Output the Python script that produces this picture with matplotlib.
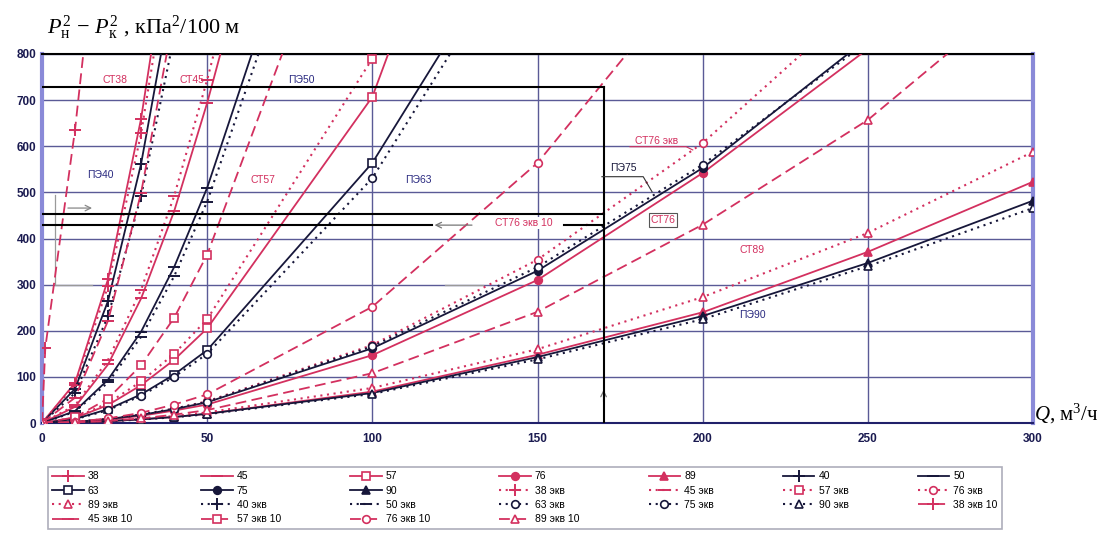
import numpy as np
import matplotlib
matplotlib.use('Agg')
import matplotlib.pyplot as plt

plt.rcParams['mathtext.fontset'] = 'custom'
plt.rcParams['mathtext.rm'] = 'Liberation Serif'
plt.rcParams['mathtext.it'] = 'Liberation Serif:italic'

nan = np.nan
# ---------------- data ----------------
Q = [0, 10, 20, 30, 40, 50, 100, 150, 200, 250, 300]

# steel pipes (СТ), solid
st38 = [0, 87, 312, 660, 1124, nan, nan, nan, nan, nan, nan]
st45 = [0, 35, 127, 270, 459, 694, 2019, nan, nan, nan, nan]
st57 = [0, 11, 39, 82, 137, 205, 707, 1676, nan, nan, nan]
st76 = [0, 2, 7.5, 15.5, 27, 40, 147, 310, 542, 811, nan]
st89 = [0, 1.2, 4, 8, 13, 20, 68, 148, 240, 371, 523]
# polyethylene pipes (ПЭ), solid
pe40 = [0, 74, 265, 562, 957, nan, nan, nan, nan, nan, nan]
pe50 = [0, 26, 94, 198, 338, 510, 1584, nan, nan, nan, nan]
pe63 = [0, 8.7, 30, 62, 105, 158, 564, 1140, nan, nan, nan]
pe75 = [0, 2.3, 8.6, 17.5, 30, 45, 162, 330, 553, 834, nan]
pe90 = [0, 1.2, 4, 8, 13, 20, 65, 143, 232, 347, 482]
# equivalent ("экв"), dotted
st38_e = [0, 83, 297, 628, 1070, nan, nan, nan, nan, nan, nan]
st45_e = [0, 38, 137, 289, 492, 744, 2144, nan, nan, nan, nan]
st57_e = [0, 12, 43, 90, 150, 225, 790, 1700, nan, nan, nan]
st76_e = [0, 2.4, 9, 18, 31, 47, 169, 354, 607, 929, nan]
st89_e = [0, 1.4, 4.5, 9.5, 15, 23, 76, 160, 273, 412, 588]
pe40_e = [0, 65, 232, 492, 838, nan, nan, nan, nan, nan, nan]
pe50_e = [0, 24.5, 88, 187, 318, 480, 1512, nan, nan, nan, nan]
pe63_e = [0, 8, 28, 59, 100, 150, 531, 1103, nan, nan, nan]
pe75_e = [0, 2.4, 8.8, 18, 31, 46, 166, 338, 560, 827, nan]
pe90_e = [0, 1.1, 3.8, 7.5, 12.5, 19, 63, 138, 225, 340, 466]
# equivalent 10 ("экв 10"), dashed
Q38_10 = [0, 1, 10, 15]
st38_e10 = [0, 163, 636, 964]
st45_e10 = [0, 55, 222, 499, 887, nan, nan, nan, nan, nan, nan]
st57_e10 = [0, 12.4, 53, 125, 228, 365, 1323, nan, nan, nan, nan]
st76_e10 = [0, 2.5, 10, 22, 40, 62, 252, 564, 1001, nan, nan]
st89_e10 = [0, 1.2, 4.5, 10, 18, 28, 108, 241, 430, 657, 955]

x_ticks = [0, 50, 100, 150, 200, 250, 300]
y_ticks = [0, 100, 200, 300, 400, 500, 600, 700, 800]

# ---------------- style ----------------
RED = '#d3305f'
DARK = '#17173a'
NAVY = '#2a2a80'
GRID = '#5a5a96'
DOT = (0, (1, 2.2))
DASH = (0, (6, 3))

fig = plt.figure(figsize=(11.19, 5.38), dpi=100)
ax = fig.add_axes([42 / 1119, 115 / 538, 991 / 1119, 369 / 538])

def mk(m, c, open_=False):
    d = dict(marker=m, markersize=5.5, markeredgecolor=c, markeredgewidth=1.2)
    d['markerfacecolor'] = 'white' if open_ else c
    if m in ('+', '_'):
        d['markersize'] = 8
        d['markeredgewidth'] = 1.4
    return d

series = [
    (Q, st38, '38', RED, '-', mk('+', RED)),
    (Q, st45, '45', RED, '-', mk('_', RED)),
    (Q, st57, '57', RED, '-', mk('s', RED, True)),
    (Q, st76, '76', RED, '-', mk('o', RED)),
    (Q, st89, '89', RED, '-', mk('^', RED)),
    (Q, pe40, '40', DARK, '-', mk('+', DARK)),
    (Q, pe50, '50', DARK, '-', mk('_', DARK)),
    (Q, pe63, '63', DARK, '-', mk('s', DARK, True)),
    (Q, pe75, '75', DARK, '-', mk('o', DARK)),
    (Q, pe90, '90', DARK, '-', mk('^', DARK)),
    (Q, st38_e, '38 экв', RED, DOT, mk('+', RED)),
    (Q, st45_e, '45 экв', RED, DOT, mk('_', RED)),
    (Q, st57_e, '57 экв', RED, DOT, mk('s', RED, True)),
    (Q, st76_e, '76 экв', RED, DOT, mk('o', RED, True)),
    (Q, st89_e, '89 экв', RED, DOT, mk('^', RED, True)),
    (Q, pe40_e, '40 экв', DARK, DOT, mk('+', DARK)),
    (Q, pe50_e, '50 экв', DARK, DOT, mk('_', DARK)),
    (Q, pe63_e, '63 экв', DARK, DOT, mk('o', DARK, True)),
    (Q, pe75_e, '75 экв', DARK, DOT, mk('o', DARK, True)),
    (Q, pe90_e, '90 экв', DARK, DOT, mk('^', DARK, True)),
    (Q38_10, st38_e10, '38 экв 10', RED, DASH, mk('+', RED)),
    (Q, st45_e10, '45 экв 10', RED, DASH, mk('_', RED)),
    (Q, st57_e10, '57 экв 10', RED, DASH, mk('s', RED, True)),
    (Q, st76_e10, '76 экв 10', RED, DASH, mk('o', RED, True)),
    (Q, st89_e10, '89 экв 10', RED, DASH, mk('^', RED, True)),
]

handles, labels = [], []
for xs, ys, lab, c, ls, m in series:
    lw = 1.5 if ls == DOT else 1.3
    ln, = ax.plot(xs, ys, color=c, linestyle=ls, linewidth=lw, label=lab, zorder=3, **m)
    handles.append(ln)
    labels.append(lab)

ax.set_xlim(0, 300)
ax.set_ylim(0, 800)
ax.set_xticks(x_ticks)
ax.set_yticks(y_ticks)
ax.tick_params(length=0, labelsize=8.5, labelcolor='#1a1a50')
ax.tick_params(axis='x', pad=7)
ax.tick_params(axis='y', pad=4)
for t in ax.get_xticklabels() + ax.get_yticklabels():
    t.set_fontweight('bold')
    t.set_family('Liberation Sans')
ax.grid(True, color=GRID, linewidth=1.0, zorder=0)
ax.set_axisbelow(True)
ax.spines['left'].set_color('#8a8ad8')
ax.spines['left'].set_linewidth(3)
ax.spines['right'].set_color('#8a8ad8')
ax.spines['right'].set_linewidth(3)
ax.spines['top'].set_color('black')
ax.spines['top'].set_linewidth(1.5)
ax.spines['bottom'].set_color('#20206a')
ax.spines['bottom'].set_linewidth(1.5)

# ---------------- annotation lines ----------------
K = dict(color='black', linewidth=1.5, zorder=4)
ax.plot([0, 170], [729, 729], **K)
ax.plot([170, 170], [0, 729], **K)
ax.plot([0, 170], [453, 453], **K)
ax.plot([0, 118], [429, 429], **K)
ax.plot([158, 170], [429, 429], **K)
ax.annotate('', xy=(118, 429), xytext=(131, 429),
            arrowprops=dict(arrowstyle='->', color='#777777', lw=0.9))
ax.annotate('', xy=(16, 466), xytext=(7, 466),
            arrowprops=dict(arrowstyle='->', color='#888888', lw=0.9))
ax.annotate('', xy=(170, 78), xytext=(170, 40),
            arrowprops=dict(arrowstyle='->', color='#777777', lw=0.9))
G = dict(color='#9a9a9a', linewidth=0.9, zorder=2)
ax.plot([3.9, 3.9, 15], [495, 299, 299], **G)
ax.plot([122, 133.5], [299, 299], **G)
# ПЭ75 leader
ax.plot([169.5, 182, 184.7], [534, 534, 501], color='#333333', linewidth=0.8, zorder=4)
# СТ76 экв leader
ax.plot([178, 195, 197], [599, 599, 592], color=RED, linewidth=0.8, zorder=4)

# ---------------- labels on the chart ----------------
tf = dict(fontsize=7.5, family='Liberation Sans', ha='center', va='center', zorder=6)
ax.text(22, 744, 'СТ38', color=RED, **tf)
ax.text(45.3, 744, 'СТ45', color=RED, **tf)
ax.text(78.4, 744, 'ПЭ50', color=NAVY, **tf)
ax.text(17.6, 538, 'ПЭ40', color=NAVY, **tf)
ax.text(67, 527, 'СТ57', color=RED, **tf)
ax.text(114, 527, 'ПЭ63', color=NAVY, **tf)
ax.text(176, 552, 'ПЭ75', color=DARK, **tf)
ax.text(186, 612, 'СТ76 экв', color=RED, **tf)
ax.text(146, 434, 'СТ76 экв 10', color=RED,
        bbox=dict(boxstyle='square,pad=0.1', fc='white', ec='none'), **tf)
ax.text(188, 440, 'СТ76', color=RED,
        bbox=dict(boxstyle='square,pad=0.15', fc='white', ec='#555555', lw=0.8), **tf)
ax.text(215, 375, 'СТ89', color=RED, **tf)
ax.text(215, 234, 'ПЭ90', color=NAVY, **tf)

# ---------------- axis titles ----------------
fig.text(47 / 1119, 1 - 34 / 538,
         r'$P^2_{\mathrm{н}}\,-\,P^2_{\mathrm{к}}$ , кПа$^2$/100 м',
         fontsize=16, family='Liberation Serif', va='baseline', ha='left')
fig.text(1034 / 1119, 1 - 420 / 538, r'$Q$, м$^3$/ч',
         fontsize=15, family='Liberation Serif', va='baseline', ha='left')

# ---------------- legend (row-major order) ----------------
ncol = 7
order = []
for c in range(ncol):
    r = 0
    while r * ncol + c < len(handles):
        order.append(r * ncol + c)
        r += 1
leg = fig.legend([handles[i] for i in order], [labels[i] for i in order],
                 ncol=ncol, loc='upper left', mode='expand',
                 bbox_to_anchor=(43 / 1119, 1 - 529 / 538, 964 / 1119, 67 / 538),
                 handlelength=3.0, handletextpad=0.4,
                 labelspacing=0.42, borderpad=0.4, columnspacing=1.0,
                 frameon=True, fancybox=False, edgecolor='#9a9aaa',
                 prop={'family': 'Liberation Sans', 'size': 7.5})
leg.get_frame().set_linewidth(1.2)

fig.savefig('out.png', dpi=100)
